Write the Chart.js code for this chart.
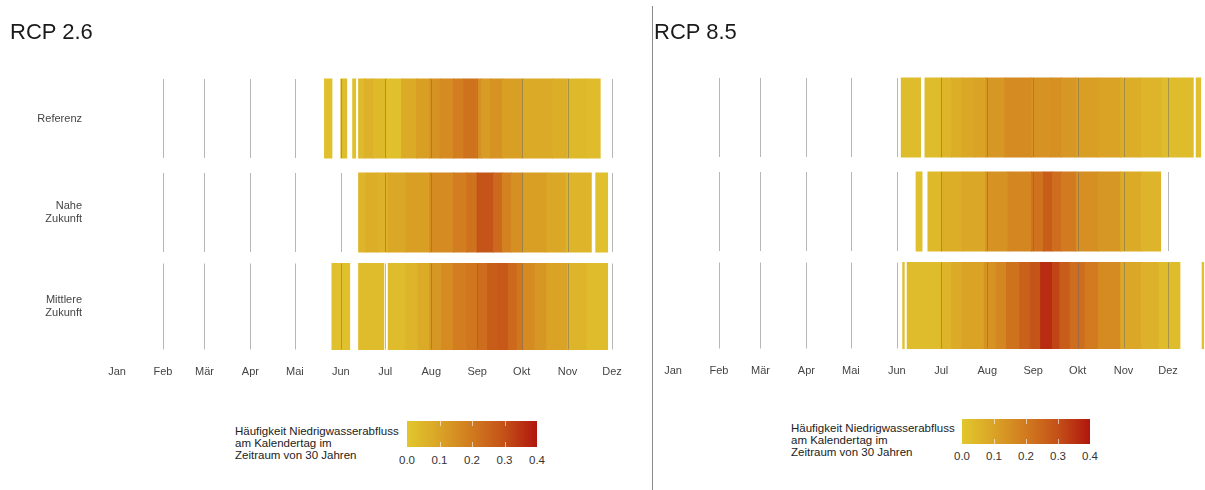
<!DOCTYPE html>
<html><head><meta charset="utf-8">
<script src="https://cdn.jsdelivr.net/npm/chart.js@4.4.1/dist/chart.umd.min.js"></script>
<style>
html,body{margin:0;padding:0;background:#fff;width:1205px;height:490px;overflow:hidden;font-family:"Liberation Sans",Arial,sans-serif;}
.panel{position:absolute;height:400px;overflow:hidden;}
#p1{left:0;top:0;width:652px;}
#p2{left:653px;top:-1px;width:552px;}
.title{position:absolute;top:21px;font-size:22px;line-height:22px;color:#1a1a1a;white-space:nowrap;}
#divider{position:absolute;left:652px;top:6px;height:484px;border-left:1px solid #8a8a8a;}
.legtext{position:absolute;font-size:11.5px;line-height:12px;color:#222;white-space:nowrap;}
.cbar{position:absolute;}
.cbtick{position:absolute;width:1px;height:5px;background:rgba(255,255,255,0.6);}
.cblab{position:absolute;font-size:11.5px;line-height:12px;color:#333;transform:translate(-50%,-50%);white-space:nowrap;}
</style></head><body>
<div id="p1" class="panel"><canvas id="c1" width="658" height="400"></canvas></div>
<div id="p2" class="panel"><canvas id="c2" width="561" height="400"></canvas></div>
<div id="divider"></div>
<div class="title" style="left:10px">RCP 2.6</div>
<div class="title" style="left:654px">RCP 8.5</div>
<div id="leg"></div>
<script>
// ---- categories / ticks ----
const months = ['Jan','Feb','Mär','Apr','Mai','Jun','Jul','Aug','Sep','Okt','Nov','Dez'];
const monthStartDays = [1,32,60,91,121,152,182,213,244,274,305,335];
const rows = ['Referenz','Nahe Zukunft','Mittlere Zukunft'];
const legendTicks = [0.0,0.1,0.2,0.3,0.4];
const legendTitle = ['Häufigkeit Niedrigwasserabfluss','am Kalendertag im','Zeitraum von 30 Jahren'];
const colorStops = [0,0.1,0.2,0.3,0.4];
const stopColors = [[225,199,45],[218,163,38],[209,122,31],[196,80,24],[176,22,14]];

// ---- series: segment start day (day of year) and frequency value; a segment runs to the next start - 1 ----
// RCP 2.6
const rcp26RefStart = [141,146,152,156,160,162,164,168,174,183,193,203,212,219,228,235,244,247,253,261,275,295,305,318,327];
const rcp26RefValue = [0.02,null,0.03,null,0.02,null,0.04,0.06,0.04,0.02,0.08,0.11,0.14,0.16,0.19,0.22,0.15,0.12,0.14,0.11,0.08,0.07,0.04,0.03,null];
const rcp26NahStart = [164,169,177,184,196,212,228,237,244,255,261,267,275,291,304,321,324,332];
const rcp26NahValue = [0.05,0.07,0.06,0.09,0.11,0.16,0.19,0.22,0.29,0.24,0.18,0.15,0.11,0.09,0.05,null,0.02,null];
const rcp26MitStart = [146,158,164,181,184,196,204,212,220,228,237,244,251,258,265,271,275,283,291,305,318,332];
const rcp26MitValue = [0.02,null,0.03,null,0.03,0.05,0.08,0.13,0.16,0.19,0.21,0.23,0.27,0.28,0.24,0.21,0.16,0.13,0.1,0.05,0.03,null];
// RCP 8.5
const rcp85RefStart = [155,168,171,182,189,196,204,212,225,243,256,263,273,288,303,317,331,352,354,357];
const rcp85RefValue = [0.03,null,0.03,0.05,0.07,0.09,0.1,0.13,0.16,0.14,0.15,0.13,0.11,0.1,0.07,0.05,0.03,null,0.02,null];
const rcp85NahStart = [165,169,173,182,196,212,227,243,251,257,263,273,288,303,317,330];
const rcp85NahValue = [0.02,null,0.04,0.07,0.09,0.14,0.17,0.22,0.27,0.23,0.2,0.15,0.13,0.08,0.05,null];
const rcp85MitStart = [156,157,159,182,189,196,211,219,226,235,242,249,257,262,269,279,288,303,317,329,343,358,359];
const rcp85MitValue = [0.02,null,0.03,0.05,0.08,0.1,0.14,0.17,0.22,0.26,0.29,0.36,0.32,0.27,0.23,0.2,0.16,0.09,0.06,0.03,null,0.02,null];

const FONT = '"Liberation Sans", Arial, sans-serif';
const rowThickness = [79,79,86];

function colorFor(v){
  if (v <= colorStops[0]) return 'rgb('+stopColors[0].join(',')+')';
  for (let i=1;i<colorStops.length;i++){
    if (v <= colorStops[i]){
      const t=(v-colorStops[i-1])/(colorStops[i]-colorStops[i-1]);
      const a=stopColors[i-1], b=stopColors[i];
      return 'rgb('+a.map((c,k)=>Math.round(c+(b[k]-c)*t)).join(',')+')';
    }
  }
  return 'rgb('+stopColors[stopColors.length-1].join(',')+')';
}
function segments(starts, values, row){
  const out=[];
  for (let i=0;i<starts.length-1;i++){
    if (values[i]==null) continue;
    out.push({x:[starts[i]-0.5, starts[i+1]-0.5], y:row, v:values[i]});
  }
  return out;
}

const monthLines = {
  id:'monthLines',
  afterDatasetsDraw(chart){
    const {ctx, scales:{x,y}} = chart;
    ctx.save();
    ctx.strokeStyle='rgba(105,105,105,0.48)';
    ctx.lineWidth=1;
    rows.forEach((r,ri)=>{
      const yc=y.getPixelForValue(ri);
      const h=rowThickness[ri]/2;
      for (let m=1;m<monthStartDays.length;m++){
        const px=Math.round(x.getPixelForValue(monthStartDays[m]-0.5))+0.5;
        ctx.beginPath(); ctx.moveTo(px,yc-h); ctx.lineTo(px,yc+h); ctx.stroke();
      }
    });
    ctx.restore();
  }
};

function makeChart(id, series, showY, padLeft){
  return new Chart(document.getElementById(id), {
    type:'bar',
    data:{labels:rows, datasets:series.map((s,i)=>({
      label:rows[i], data:segments(s[0],s[1],rows[i]), barThickness:rowThickness[i], grouped:false,
      backgroundColor:c=>c.raw?colorFor(c.raw.v):'rgba(0,0,0,0)', borderWidth:0, inflateAmount:0.45
    }))},
    options:{
      indexAxis:'y', responsive:false, animation:false, events:[],
      layout:{padding:{top:71.5,bottom:16.5,left:padLeft,right:0}},
      plugins:{legend:{display:false}, tooltip:{enabled:false}},
      scales:{
        x:{type:'linear', min:0.5, max:365.5,
          afterBuildTicks:sc=>{ sc.ticks=monthStartDays.map(d=>({value:d-0.5})); },
          afterFit:sc=>{ sc.height=30; },
          grid:{color:'rgba(0,0,0,0)', drawOnChartArea:false, drawTicks:true, tickLength:10},
          border:{display:false},
          ticks:{autoSkip:false, maxRotation:0, padding:2, color:'#444', font:{family:FONT,size:11},
            callback:(v,i)=>months[i]}},
        y:{type:'category', labels:rows, display:showY, offset:true,
          afterFit:sc=>{ if (showY) sc.width=117; },
          grid:{display:false, drawTicks:false}, border:{display:false},
          ticks:{padding:35, color:'#444', font:{family:FONT,size:11}, autoSkip:false,
            callback:function(v){ return this.getLabelForValue(v).split(' '); }}}
      }
    },
    plugins:[monthLines]
  });
}

makeChart('c1', [[rcp26RefStart,rcp26RefValue],[rcp26NahStart,rcp26NahValue],[rcp26MitStart,rcp26MitValue]], true, 0);
makeChart('c2', [[rcp85RefStart,rcp85RefValue],[rcp85NahStart,rcp85NahValue],[rcp85MitStart,rcp85MitValue]], false, 20);

// ---- colour legends ----
function legend(textLeft, textTop, barLeft, barTop, barW, barH, labY){
  const leg=document.getElementById('leg');
  const t=document.createElement('div'); t.className='legtext';
  t.style.left=textLeft+'px'; t.style.top=textTop+'px';
  t.innerHTML=legendTitle.join('<br>'); leg.appendChild(t);
  const b=document.createElement('div'); b.className='cbar';
  b.style.left=barLeft+'px'; b.style.top=barTop+'px'; b.style.width=barW+'px'; b.style.height=barH+'px';
  const lo=colorStops[0], hi=colorStops[colorStops.length-1];
  b.style.background='linear-gradient(to right,'+colorStops.map((s,i)=>'rgb('+stopColors[i].join(',')+') '+((s-lo)/(hi-lo)*100)+'%').join(',')+')';
  leg.appendChild(b);
  legendTicks.forEach(v=>{
    const x=barLeft+(v-lo)/(hi-lo)*barW;
    if (v>lo && v<hi){
      [barTop, barTop+barH-5].forEach(yy=>{
        const k=document.createElement('div'); k.className='cbtick';
        k.style.left=Math.round(x)+'px'; k.style.top=yy+'px'; leg.appendChild(k);
      });
    }
    const l=document.createElement('div'); l.className='cblab';
    l.style.left=x+'px'; l.style.top=labY+'px'; l.textContent=v.toFixed(1); leg.appendChild(l);
  });
}
legend(235, 425, 407, 421, 130, 26, 460);
legend(791, 422, 962, 419, 128, 25, 456);
</script>
</body></html>
